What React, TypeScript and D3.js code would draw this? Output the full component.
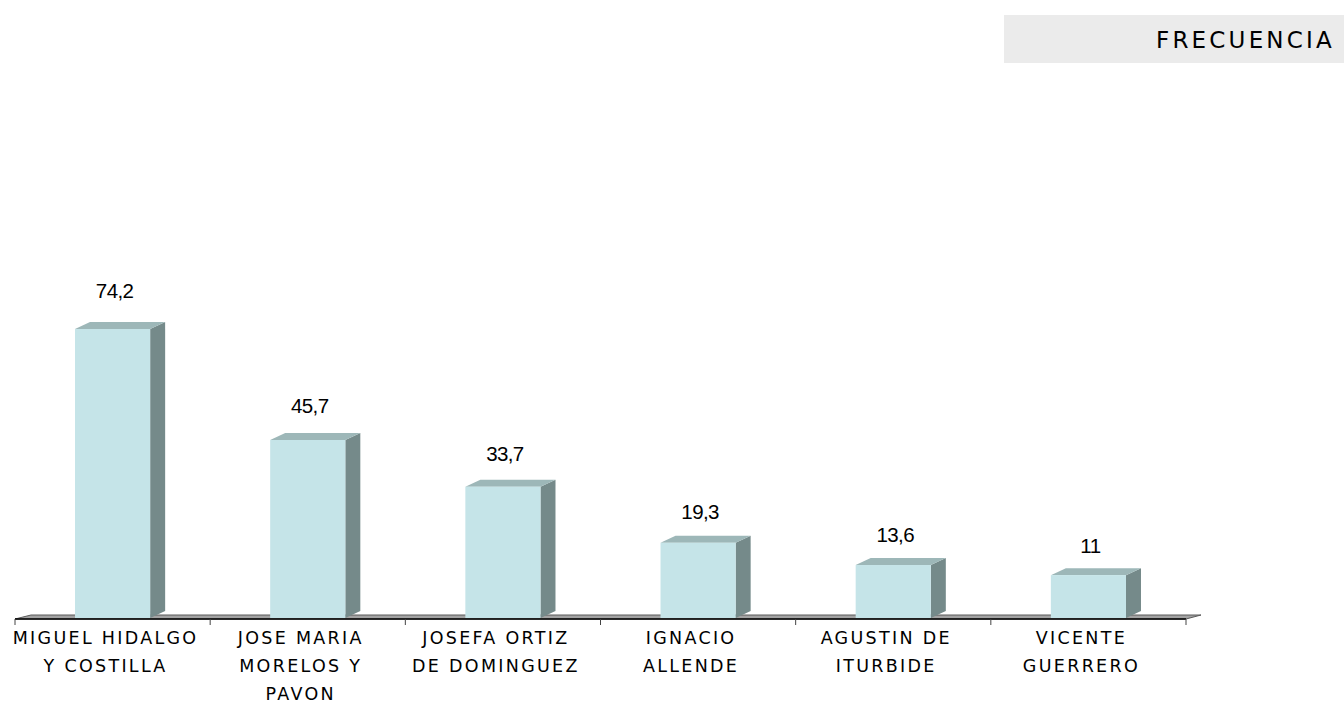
import React from "react";
import * as d3 from "d3";

const categories: string[][] = [
  ["MIGUEL HIDALGO", "Y COSTILLA"],
  ["JOSE MARIA", "MORELOS Y", "PAVON"],
  ["JOSEFA ORTIZ", "DE DOMINGUEZ"],
  ["IGNACIO", "ALLENDE"],
  ["AGUSTIN DE", "ITURBIDE"],
  ["VICENTE", "GUERRERO"],
];
const values: number[] = [74.2, 45.7, 33.7, 19.3, 13.6, 11];
const valueLabels: string[] = ["74,2", "45,7", "33,7", "19,3", "13,6", "11"];
const seriesName = "FRECUENCIA";

const W = 1344;
const H = 703;
const DX = 15;
const DY = 7;

export default function App() {
  const idx = values.map((_, i) => String(i));
  const x = d3.scaleBand<string>().domain(idx).range([15, 1186]).padding(0);
  const y = d3.scaleLinear().domain([0, 80]).range([618, 618 - 80 * 3.895]);
  // label placement in the 3D projection (labels sit above the projected top)
  const yLabel = d3.scaleLinear().domain([0, 80]).range([597, 597 - 80 * 4.035]);
  const step = x.step();
  const bw = step * 0.385;
  const x0 = x.range()[0];
  const x1 = x.range()[1];
  const floorY = 619;

  return (
    <svg
      width={W}
      height={H}
      style={{ position: "fixed", left: 0, top: 0, background: "#fff" }}
    >
      {/* legend */}
      <rect x={1004} y={15} width={340} height={48} fill="#ebebeb" />
      <text
        x={1156}
        y={48}
        fontFamily="DejaVu Sans"
        fontSize={23}
        letterSpacing={3.2}
        fill="#000"
      >
        {seriesName}
      </text>

      {/* floor */}
      <polygon
        points={`${x0},${floorY} ${x1},${floorY} ${x1 + 15},${floorY - 4} ${x0 + 16},${floorY - 4}`}
        fill="#a3a3a3"
        stroke="#5a5a5a"
        strokeWidth={1}
      />
      <line x1={x0} x2={x1} y1={floorY} y2={floorY} stroke="#000" strokeWidth={1.5} />
      {d3.range(values.length + 1).map((i) => {
        const tx = x0 + i * step;
        return <line key={i} x1={tx} x2={tx} y1={floorY} y2={floorY + 6} stroke="#444" strokeWidth={1} />;
      })}

      {/* bars */}
      {values.map((v, i) => {
        const cx = (x(String(i)) as number) + step / 2;
        const left = cx - bw / 2;
        const right = cx + bw / 2;
        const top = y(v);
        const base = y(0);
        return (
          <g key={i}>
            <polygon
              points={`${right},${top} ${right + DX},${top - DY} ${right + DX},${base - DY} ${right},${base}`}
              fill="#758a8a"
            />
            <polygon
              points={`${left},${top} ${left + DX},${top - DY} ${right + DX},${top - DY} ${right},${top}`}
              fill="#9db7b8"
            />
            <rect x={left} y={top} width={bw} height={base - top} fill="#c5e4e8" />
            <text
              x={cx + 2}
              y={yLabel(v)}
              textAnchor="middle"
              fontFamily="Liberation Sans"
              fontSize={20.5}
              letterSpacing={-0.6}
              fill="#000"
            >
              {valueLabels[i]}
            </text>
          </g>
        );
      })}

      {/* category labels */}
      {categories.map((lines, i) => {
        const cx = (x(String(i)) as number) + step / 2 - 7;
        return (
          <text
            key={i}
            textAnchor="middle"
            fontFamily="DejaVu Sans"
            fontSize={17.5}
            letterSpacing={2.3}
            fill="#000"
          >
            {lines.map((l, j) => (
              <tspan key={j} x={cx} y={644 + j * 28}>
                {l}
              </tspan>
            ))}
          </text>
        );
      })}
    </svg>
  );
}
